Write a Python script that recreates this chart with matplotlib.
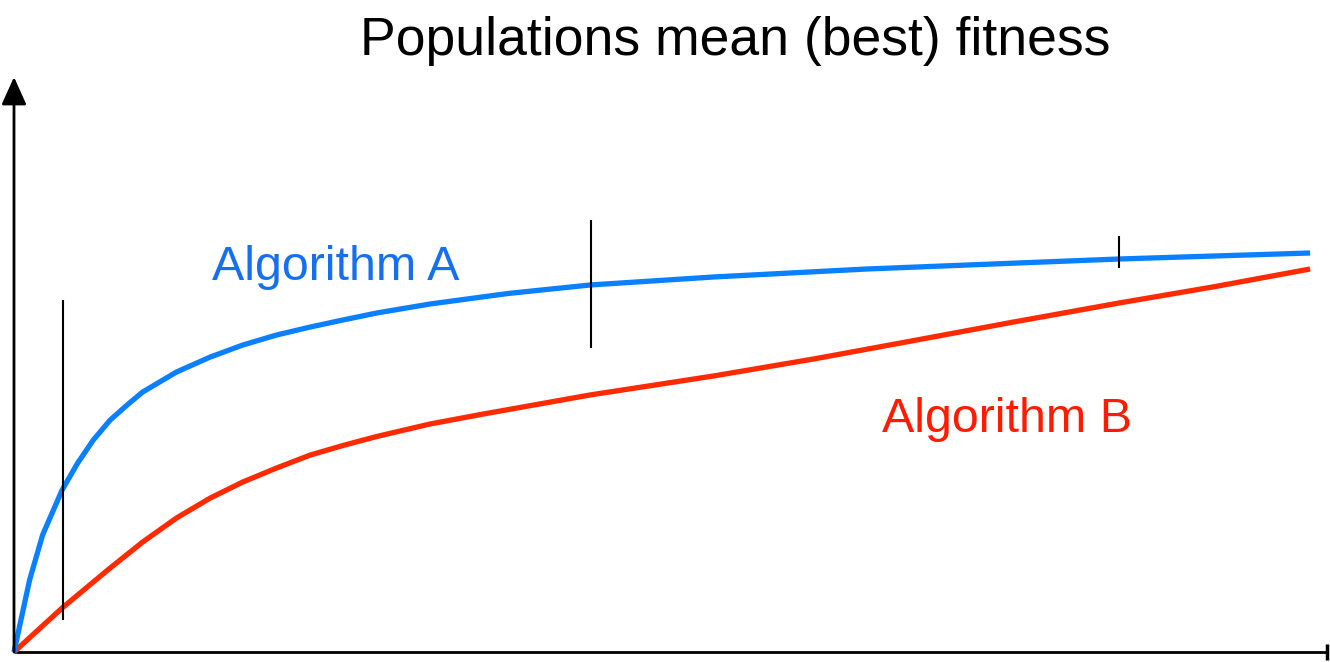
import matplotlib.pyplot as plt

# generations (x) and fitness (y)
gen_a = [0, 1.2, 2.2, 3.7, 4.9, 6.1, 7.4, 8.7, 9.9, 12.5, 15.1, 17.6, 20.2, 22.8, 25.3,
         27.9, 32, 38, 44.3, 53.8, 65.6, 85, 99.7]
fit_a = [0, 14.4, 23.4, 32.4, 37.8, 42.4, 46.4, 49.4, 52, 56, 59, 61.4, 63.4, 65, 66.4,
         67.8, 69.6, 71.7, 73.4, 75.0, 76.6, 78.6, 79.8]

gen_b = [0, 3.7, 6.1, 7.4, 9.9, 12.5, 15.1, 17.6, 20.2, 22.8, 25.3, 27.9, 32, 35.9,
         44.3, 53.8, 61.5, 68.2, 76.9, 85, 92.2, 99.7]
fit_b = [0, 8.8, 14, 16.8, 22, 26.8, 30.8, 34, 36.8, 39.4, 41.3, 43.1, 45.6, 47.5,
         51.4, 55.2, 58.6, 61.8, 66, 69.8, 73, 76.6]

# spread markers at selected generations
spread_x = [3.8, 44.4, 85]
spread_lo = [6.4, 60.8, 76.8]
spread_hi = [70.4, 86.4, 83.2]

blue = '#0A80FF'
red = '#FF2A00'

plt.rcParams['font.family'] = ['Liberation Sans', 'DejaVu Sans']

fig = plt.figure(figsize=(13.3, 6.62), dpi=100)
ax = fig.add_axes([0, 0, 1, 1])
ax.set_xlim(-14 / 13, 1316 / 13)
ax.set_ylim(-2, 130.4)
ax.axis('off')

# axes drawn by hand
ax.plot([0, 101], [0, 0], color='black', lw=2, solid_capstyle='butt')
ax.plot([101], [0], marker='|', color='black', ms=12, mew=2.5)
ax.annotate('', xy=(0, 115), xytext=(0, 0),
            arrowprops=dict(arrowstyle='-|>,head_length=1.0,head_width=0.45',
                            lw=2, color='black', mutation_scale=17, shrinkA=0, shrinkB=0))

ax.plot(gen_b, fit_b, color=red, lw=3.8, solid_joinstyle='round', solid_capstyle='butt')
ax.plot(gen_a, fit_a, color=blue, lw=3.8, solid_joinstyle='round', solid_capstyle='butt')
ax.vlines(spread_x, spread_lo, spread_hi, color='black', lw=1.5)

ax.text(15.2, 74.4, 'Algorithm A', color='#1570F0', fontsize=34.8, va='baseline', ha='left')
ax.text(66.8, 44, 'Algorithm B', color='#FF1A00', fontsize=34.8, va='baseline', ha='left')

fig.text(735.5 / 1330, 1 - 55 / 662, 'Populations mean (best) fitness', fontsize=38.5,
         ha='center', va='baseline', color='black')

fig.savefig('out.png', dpi=100)
